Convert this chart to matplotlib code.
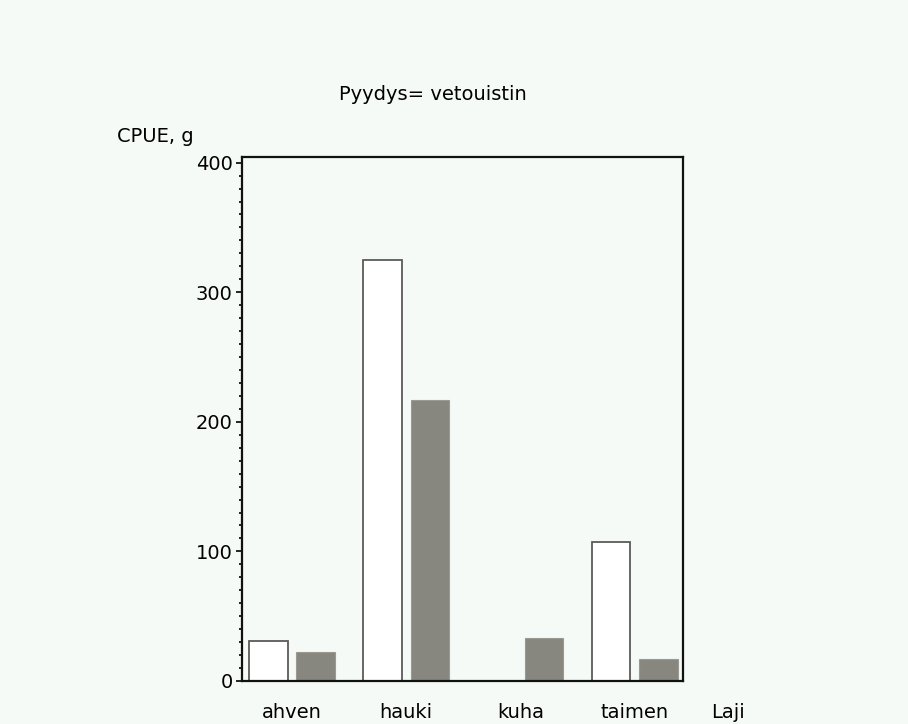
import matplotlib
matplotlib.use("Agg")
import matplotlib.pyplot as plt
from matplotlib.ticker import MultipleLocator

# CPUE (g) by species, two series per species
lajit = ["ahven", "hauki", "kuha", "taimen"]
sarja1 = [31, 325, 0, 107]   # white bars
sarja2 = [22, 217, 33, 17]   # grey bars

bg = "#f6faf6"
plt.rcParams["font.family"] = "DejaVu Sans"

fig = plt.figure(figsize=(9.08, 7.24), dpi=100, facecolor=bg)
ax = fig.add_axes([0.2662, 0.0594, 0.4857, 0.7231], facecolor=bg)

x = list(range(len(lajit)))
w = 0.337
off = 0.206
ax.bar([i - off for i in x], sarja1, width=w, color="white",
       edgecolor="#5a5a5a", linewidth=1.3)
ax.bar([i + off for i in x], sarja2, width=w, color="#878780",
       edgecolor="#9a9a92", linewidth=0.8)

ax.set_xlim(-0.44, 3.42)
ax.set_ylim(0, 404)
ax.set_xticks(x)
ax.set_xticklabels(lajit, fontsize=14)
ax.tick_params(axis="x", length=0, pad=16)
ax.yaxis.set_major_locator(MultipleLocator(100))
ax.yaxis.set_minor_locator(MultipleLocator(10))
ax.tick_params(axis="y", which="major", length=4.5, width=1.2, labelsize=14, pad=2)
ax.tick_params(axis="y", which="minor", length=2, width=1.2)
for s in ax.spines.values():
    s.set_linewidth(1.6)
    s.set_color("#111111")

fig.text(433 / 908, 1 - 95 / 724, "Pyydys= vetouistin", fontsize=14,
         ha="center", va="center")
fig.text(117 / 908, 1 - 137 / 724, "CPUE, g", fontsize=14,
         ha="left", va="center")
fig.text(711 / 908, 1 - 712 / 724, "Laji", fontsize=14,
         ha="left", va="center")

fig.savefig("out.png", dpi=100, facecolor=bg)
